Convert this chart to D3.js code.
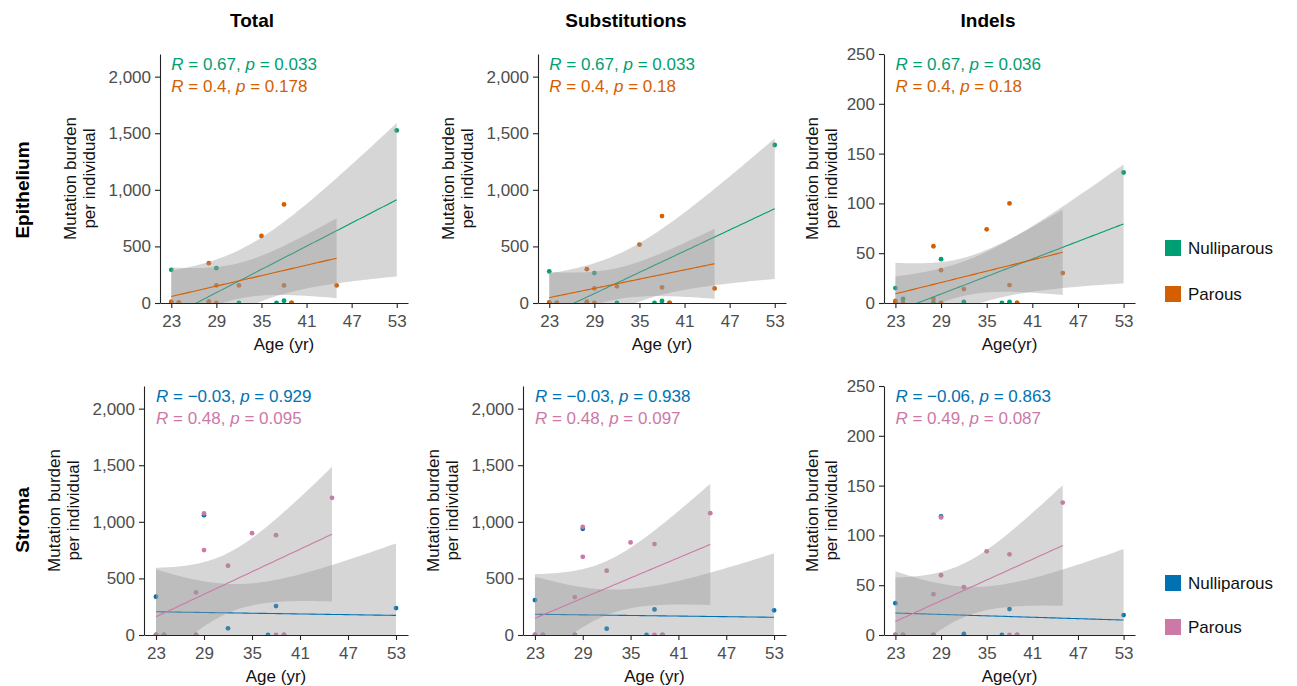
<!DOCTYPE html>
<html>
<head>
<meta charset="utf-8">
<script src="https://cdn.jsdelivr.net/npm/d3@7"></script>
<style>
  body { margin: 0; background: #fff; }
  svg { font-family: "Liberation Sans", Arial, sans-serif; }
</style>
</head>
<body>
<svg id="chart" width="1297" height="686" viewBox="0 0 1297 686"></svg>
<script>
// ages of the two groups (same individuals in every panel)
const nulliAge = [23, 23, 24, 28, 29, 32, 37, 38, 39, 53];
const parousAge = [23, 23, 24, 28, 28, 29, 29, 32, 35, 38, 38, 39, 45];

// epithelium burdens
const epiTotalNulli = [293, 0, 0, 0, 308, 0, 0, 20, 0, 1525];
const epiTotalParous = [12, 0, 5, 352, 15, 155, 0, 155, 592, 871, 155, 0, 155];
const epiSubsNulli = [279, 0, 0, 0, 264, 0, 0, 18, 0, 1396];
const epiSubsParous = [6, 0, 0, 299, 12, 129, 0, 147, 516, 768, 138, 0, 129];
const epiIndelNulli = [15, 0, 4, 0, 44, 1, 0, 1, 0, 131];
const epiIndelParous = [2, 0, 0, 57, 4, 33, 0, 14, 74, 100, 18, 0, 30];

// stroma burdens
const strTotalNulli = [338, 0, 0, 0, 1059, 59, 0, 256, 0, 238];
const strTotalParous = [0, 0, 0, 376, 0, 1074, 750, 612, 900, 882, 0, 0, 1212];
const strSubsNulli = [309, 0, 0, 0, 938, 56, 0, 226, 0, 218];
const strSubsParous = [0, 0, 0, 335, 0, 956, 691, 568, 818, 803, 0, 0, 1076];
const strIndelNulli = [32, 0, 0, 0, 119, 1, 0, 26, 0, 20];
const strIndelParous = [0, 0, 0, 41, 0, 118, 60, 48, 84, 81, 0, 0, 133];

// correlation labels as printed
const corLabels = [
  [["0.67", "0.033"], ["0.4", "0.178"]],
  [["0.67", "0.033"], ["0.4", "0.18"]],
  [["0.67", "0.036"], ["0.4", "0.18"]],
  [["\u22120.03", "0.929"], ["0.48", "0.095"]],
  [["\u22120.03", "0.938"], ["0.48", "0.097"]],
  [["\u22120.06", "0.863"], ["0.49", "0.087"]]
];

const colTitles = ["Total", "Substitutions", "Indels"];
const rowTitles = ["Epithelium", "Stroma"];
const groupNames = ["Nulliparous", "Parous"];
const xTicks = [23, 29, 35, 41, 47, 53];
const bigTicks = [0, 500, 1000, 1500, 2000];
const smallTicks = [0, 50, 100, 150, 200, 250];

const rowColors = [["#009E73", "#D55E00"], ["#0072B2", "#CC79A7"]];
// two-sided 95% t quantiles for df = n - 2
const tCrit = { 8: 2.306, 11: 2.201 };

const svg = d3.select("#chart");

const panels = [
  { row: 0, col: 0, left: 160, right: 408, nulli: epiTotalNulli, parous: epiTotalParous },
  { row: 0, col: 1, left: 538, right: 786, nulli: epiSubsNulli, parous: epiSubsParous },
  { row: 0, col: 2, left: 884, right: 1135, nulli: epiIndelNulli, parous: epiIndelParous },
  { row: 1, col: 0, left: 144, right: 408, nulli: strTotalNulli, parous: strTotalParous },
  { row: 1, col: 1, left: 523, right: 786, nulli: strSubsNulli, parous: strSubsParous },
  { row: 1, col: 2, left: 884, right: 1135, nulli: strIndelNulli, parous: strIndelParous }
];
const rowTop = [54, 386];
const rowBottom = [303, 635];

function linFit(xs, ys) {
  const n = xs.length;
  const xbar = d3.mean(xs), ybar = d3.mean(ys);
  let sxx = 0, sxy = 0;
  xs.forEach((x, i) => { sxx += (x - xbar) ** 2; sxy += (x - xbar) * (ys[i] - ybar); });
  const slope = sxy / sxx;
  const icpt = ybar - slope * xbar;
  let sse = 0;
  xs.forEach((x, i) => { sse += (ys[i] - icpt - slope * x) ** 2; });
  const s = Math.sqrt(sse / (n - 2));
  const t = tCrit[n - 2];
  const lo = d3.min(xs), hi = d3.max(xs);
  const pts = d3.range(80).map(k => {
    const x = lo + (hi - lo) * k / 79;
    const f = icpt + slope * x;
    const se = s * Math.sqrt(1 / n + (x - xbar) ** 2 / sxx);
    return { x: x, y: f, y0: f - t * se, y1: f + t * se };
  });
  return pts;
}

panels.forEach((p, pi) => {
  const top = rowTop[p.row], bottom = rowBottom[p.row];
  const indel = p.col === 2;
  const x = d3.scaleLinear().domain([21.5, 54.5]).range([p.left, p.right]);
  const y = d3.scaleLinear().domain(indel ? [0, 250] : [0, 2200]).range([bottom, top]);
  const colors = rowColors[p.row];
  const g = svg.append("g");

  const clipId = "clip" + pi;
  svg.append("clipPath").attr("id", clipId)
    .append("rect").attr("x", p.left).attr("y", top)
    .attr("width", p.right - p.left).attr("height", bottom - top);

  const plot = g.append("g").attr("clip-path", `url(#${clipId})`);

  // points first, like the original layer order
  const groups = [
    { ages: nulliAge, vals: p.nulli, color: colors[0] },
    { ages: parousAge, vals: p.parous, color: colors[1] }
  ];
  groups.forEach(gr => {
    plot.append("g").selectAll("circle")
      .data(gr.ages.map((a, i) => ({ a: a, v: gr.vals[i] })))
      .enter().append("circle")
      .attr("cx", d => x(d.a))
      .attr("cy", d => y(d.v))
      .attr("r", 2.4)
      .attr("fill", gr.color);
  });

  groups.forEach(gr => {
    const fit = linFit(gr.ages, gr.vals);
    plot.append("path").datum(fit)
      .attr("d", d3.area().x(d => x(d.x)).y0(d => y(d.y0)).y1(d => y(d.y1)))
      .attr("fill", "#999999").attr("fill-opacity", 0.4);
    plot.append("path").datum(fit)
      .attr("d", d3.line().x(d => x(d.x)).y(d => y(d.y)))
      .attr("fill", "none").attr("stroke", gr.color).attr("stroke-width", 1.1);
  });

  // axes
  const xAxis = g.append("g").attr("transform", `translate(0,${bottom})`)
    .call(d3.axisBottom(x).tickValues(xTicks).tickSize(5).tickPadding(7).tickSizeOuter(0));
  const yAxis = g.append("g").attr("transform", `translate(${p.left},0)`)
    .call(d3.axisLeft(y).tickValues(indel ? smallTicks : bigTicks)
      .tickFormat(d3.format(",")).tickSize(5).tickPadding(4).tickSizeOuter(0));
  [xAxis, yAxis].forEach(ax => {
    ax.select(".domain").attr("stroke", "#222").attr("stroke-width", 1.1);
    ax.selectAll(".tick line").attr("stroke", "#222").attr("stroke-width", 1.1);
    ax.selectAll(".tick text").attr("fill", "#4d4d4d").attr("font-size", 17)
      .attr("font-family", "Liberation Sans, Arial, sans-serif");
  });

  // axis titles
  g.append("text")
    .attr("x", (p.left + p.right) / 2).attr("y", bottom + 47)
    .attr("text-anchor", "middle").attr("font-size", 17).attr("fill", "#111")
    .text(indel ? "Age(yr)" : "Age (yr)");
  const yt = g.append("text")
    .attr("transform", `translate(${p.left - (indel ? 72 : 90) + 6},${(top + bottom) / 2}) rotate(-90)`)
    .attr("text-anchor", "middle").attr("font-size", 17).attr("fill", "#111");
  yt.append("tspan").attr("x", 0).attr("dy", 0).text("Mutation burden");
  yt.append("tspan").attr("x", 0).attr("dy", 19).text("per individual");

  // correlation labels
  corLabels[pi].forEach((lab, k) => {
    const t = g.append("text")
      .attr("x", x(23)).attr("y", top + 16 + k * 22)
      .attr("font-size", 17).attr("fill", colors[k]);
    t.append("tspan").attr("font-style", "italic").text("R");
    t.append("tspan").text(" = " + lab[0] + ", ");
    t.append("tspan").attr("font-style", "italic").text("p");
    t.append("tspan").text(" = " + lab[1]);
  });
});

// column titles
const colCenters = [252, 626, 988];
colTitles.forEach((t, i) => {
  svg.append("text").attr("x", colCenters[i]).attr("y", 27)
    .attr("text-anchor", "middle").attr("font-size", 19).attr("font-weight", "bold")
    .text(t);
});

// row titles
const rowCenters = [190, 520];
rowTitles.forEach((t, i) => {
  svg.append("text")
    .attr("transform", `translate(29,${rowCenters[i]}) rotate(-90)`)
    .attr("text-anchor", "middle").attr("font-size", 19).attr("font-weight", "bold")
    .text(t);
});

// legends
const legendY = [[248, 294], [583, 627]];
rowColors.forEach((cols, r) => {
  cols.forEach((c, k) => {
    svg.append("rect").attr("x", 1165).attr("y", legendY[r][k] - 8)
      .attr("width", 16).attr("height", 16).attr("fill", c);
    svg.append("text").attr("x", 1188).attr("y", legendY[r][k] + 6)
      .attr("font-size", 17).attr("fill", "#111").text(groupNames[k]);
  });
});
</script>
</body>
</html>
